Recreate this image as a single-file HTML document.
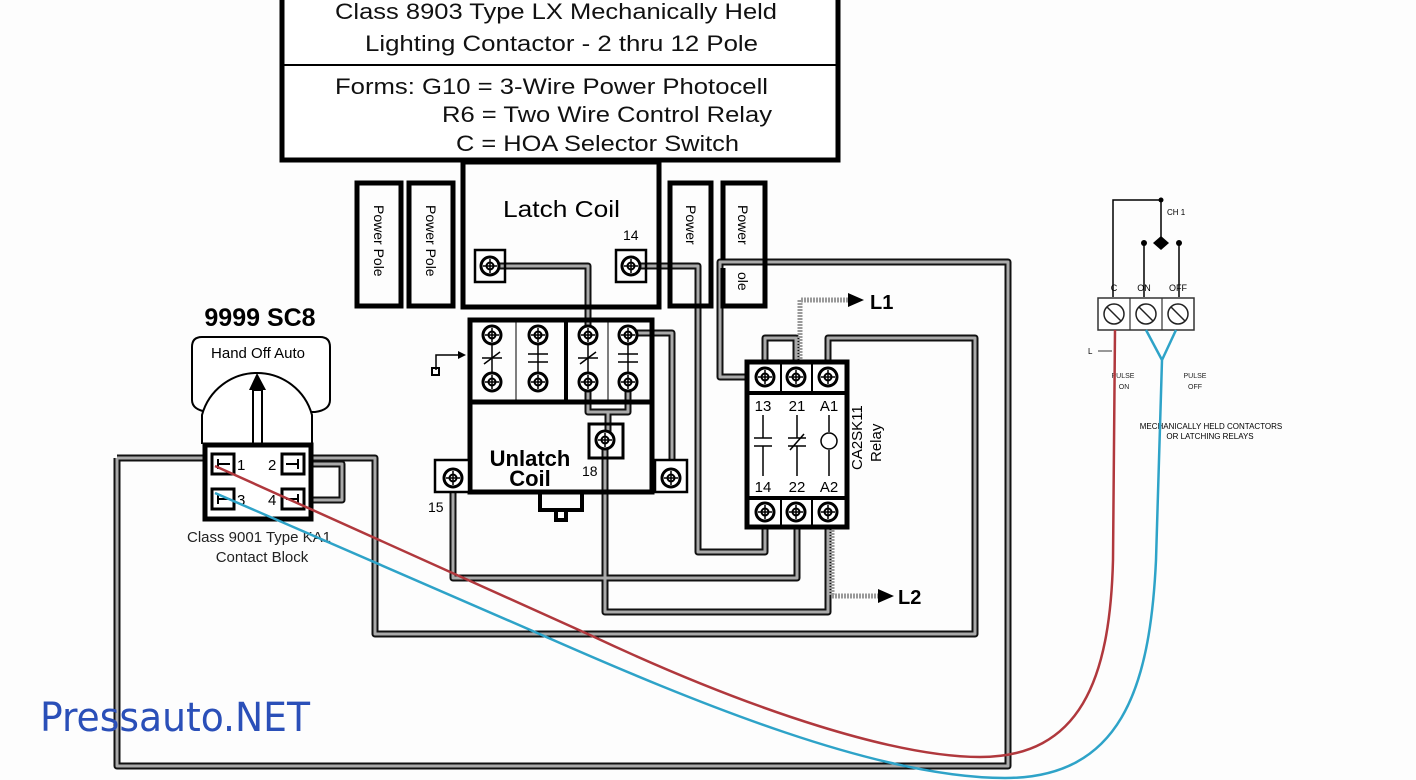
<!DOCTYPE html>
<html><head><meta charset="utf-8"><style>
html,body{margin:0;padding:0;background:#fdfdfd;}
svg{display:block;font-family:"Liberation Sans",Arial,sans-serif;}
</style></head><body>
<svg width="1416" height="780" viewBox="0 0 1416 780" xmlns="http://www.w3.org/2000/svg">
<rect width="1416" height="780" fill="#fdfdfd"/>
<defs>
<g id="scr"><circle r="9" fill="#fff" stroke="#000" stroke-width="3"/><circle r="3.5" fill="none" stroke="#000" stroke-width="2"/><path d="M-7 0H7M0 -7V7" stroke="#000" stroke-width="1.5"/></g>
</defs>

<g fill="none" stroke-linejoin="round">
<g stroke="#111" stroke-width="7">
<path d="M117 458H375V634H975V338H828V377"/>
<path d="M117 458V766H1008V262H720V377H765"/>
<path d="M453 480V578H797V512"/>
<path d="M605 440V612H828V512"/>
<path d="M631 266H698V552H765V512"/>
<path d="M628 333H672V478"/>
<path d="M490 266H588V333"/>
<path d="M765 377V338H796V377"/>
<path d="M292 464H342V500H292"/>
<path d="M588 383V412H628V383M588 412H608V440"/>
</g>
<g stroke="#aaa" stroke-width="3">
<path d="M117 458H375V634H975V338H828V377"/>
<path d="M117 458V766H1008V262H720V377H765"/>
<path d="M453 480V578H797V512"/>
<path d="M605 440V612H828V512"/>
<path d="M631 266H698V552H765V512"/>
<path d="M628 333H672V478"/>
<path d="M490 266H588V333"/>
<path d="M765 377V338H796V377"/>
<path d="M292 464H342V500H292"/>
<path d="M588 383V412H628V383M588 412H608V440"/>
</g>
<path d="M800 377V300H848M832 512V596H878" stroke="#999" stroke-width="5" stroke-dasharray="2 1"/>
</g>
<path d="M848 293L864 300L848 307Z M878 589L894 596L878 603Z"/>
<text x="870" y="309" font-size="20" font-weight="bold">L1</text>
<text x="898" y="604" font-size="20" font-weight="bold">L2</text>

<rect x="282" y="-10" width="556" height="170" fill="#fff" stroke="#000" stroke-width="5"/>
<line x1="282" y1="65" x2="838" y2="65" stroke="#000" stroke-width="2"/>
<g font-size="22" fill="#111">
<text x="335" y="19" textLength="442" lengthAdjust="spacingAndGlyphs">Class 8903 Type LX Mechanically Held</text>
<text x="365" y="51" textLength="393" lengthAdjust="spacingAndGlyphs">Lighting Contactor - 2 thru 12 Pole</text>
<text x="335" y="94" textLength="433" lengthAdjust="spacingAndGlyphs">Forms:  G10 = 3-Wire Power Photocell</text>
<text x="442" y="122" textLength="330" lengthAdjust="spacingAndGlyphs">R6 = Two Wire Control Relay</text>
<text x="456" y="151" textLength="283" lengthAdjust="spacingAndGlyphs">C = HOA Selector Switch</text>
</g>

<rect x="463" y="162" width="196" height="145" fill="none" stroke="#000" stroke-width="5"/>
<text x="503" y="217" font-size="23" textLength="117" lengthAdjust="spacingAndGlyphs">Latch Coil</text>
<text x="623" y="240" font-size="14">14</text>
<rect x="475" y="250" width="30" height="32" fill="none" stroke="#000" stroke-width="2.5"/>
<rect x="616" y="250" width="30" height="32" fill="none" stroke="#000" stroke-width="2.5"/>
<use href="#scr" x="490" y="266"/><use href="#scr" x="631" y="266"/>

<g fill="none" stroke="#000" stroke-width="5">
<rect x="357" y="183" width="44" height="123"/>
<rect x="409" y="183" width="44" height="123"/>
<rect x="670" y="183" width="41" height="123"/>
<path d="M723 260V183H765V306H723V268"/>
</g>
<g font-size="14">
<text transform="translate(374,205) rotate(90)">Power Pole</text>
<text transform="translate(426,205) rotate(90)">Power Pole</text>
<text transform="translate(686,205) rotate(90)">Power</text>
<text transform="translate(738,205) rotate(90)">Power</text>
<text transform="translate(738,272) rotate(90)">ole</text>
</g>

<rect x="470" y="320" width="182" height="82" fill="none" stroke="#000" stroke-width="5"/>
<line x1="516" y1="322" x2="516" y2="400" stroke="#000"/>
<line x1="566" y1="322" x2="566" y2="400" stroke="#000" stroke-width="4"/>
<line x1="608" y1="322" x2="608" y2="400" stroke="#000"/>
<g stroke="#000" stroke-width="1.5">
<path d="M492 340V376M482 358H502M538 340V376M528 354H548M528 362H548M588 340V376M578 358H598M628 340V376M618 354H638M618 362H638"/>
<path d="M484 364L500 352M580 364L596 352"/>
</g>
<use href="#scr" x="492" y="335"/><use href="#scr" x="538" y="335"/><use href="#scr" x="588" y="335"/><use href="#scr" x="628" y="335"/>
<use href="#scr" x="492" y="382"/><use href="#scr" x="538" y="382"/><use href="#scr" x="588" y="382"/><use href="#scr" x="628" y="382"/>
<path d="M436 370V355H458" fill="none" stroke="#000" stroke-width="1.5"/><path d="M458 351L466 355L458 359Z"/>
<rect x="432" y="368" width="7" height="7" fill="none" stroke="#000" stroke-width="2"/>

<path d="M470 402V492H652V402" fill="none" stroke="#000" stroke-width="5"/>
<path d="M540 492V510H582V492M556 510V520H566V510" fill="none" stroke="#000" stroke-width="4"/>
<text x="530" y="466" font-size="22" font-weight="bold" text-anchor="middle">Unlatch</text>
<text x="530" y="486" font-size="22" font-weight="bold" text-anchor="middle">Coil</text>
<rect x="589" y="424" width="34" height="34" fill="none" stroke="#000" stroke-width="3"/>
<use href="#scr" x="605" y="440"/>
<text x="582" y="476" font-size="14">18</text>
<rect x="435" y="460" width="34" height="32" fill="#fff" stroke="#000" stroke-width="2.5"/>
<use href="#scr" x="453" y="478"/>
<text x="428" y="512" font-size="14">15</text>
<rect x="655" y="460" width="32" height="32" fill="#fff" stroke="#000" stroke-width="2.5"/>
<use href="#scr" x="671" y="478"/>

<rect x="747" y="362" width="100" height="165" fill="#fff" stroke="#000" stroke-width="5"/>
<line x1="749" y1="393" x2="845" y2="393" stroke="#000" stroke-width="4"/>
<line x1="749" y1="498" x2="845" y2="498" stroke="#000" stroke-width="4"/>
<path d="M781 362V393M812 362V393M781 498V527M812 498V527" stroke="#000" stroke-width="2"/>
<use href="#scr" x="765" y="377"/><use href="#scr" x="796" y="377"/><use href="#scr" x="828" y="377"/>
<use href="#scr" x="765" y="512"/><use href="#scr" x="796" y="512"/><use href="#scr" x="828" y="512"/>
<g font-size="15" text-anchor="middle">
<text x="763" y="411">13</text><text x="797" y="411">21</text><text x="829" y="411">A1</text>
<text x="763" y="492">14</text><text x="797" y="492">22</text><text x="829" y="492">A2</text>
</g>
<g stroke="#000" stroke-width="1.5" fill="none">
<path d="M763 415V438M754 438H772M754 446H772M763 446V476M797 415V438M788 438H806M788 446H806M797 446V476M790 450L804 434M829 415V432M829 450V476"/>
<circle cx="829" cy="441" r="8"/>
</g>
<text transform="translate(862,470) rotate(-90)" font-size="15">CA2SK11</text>
<text transform="translate(881,462) rotate(-90)" font-size="15">Relay</text>

<text x="260" y="326" font-size="25" font-weight="bold" text-anchor="middle">9999 SC8</text>
<path d="M202 337H320Q330 337 330 347V400Q330 410 315 412 L208 412Q192 410 192 400V347Q192 337 202 337Z" fill="#fff" stroke="#000" stroke-width="2"/>
<path d="M202 444V415A57 57 0 0 1 312 415V444" fill="#fff" stroke="#000" stroke-width="2"/>
<text x="258" y="358" font-size="15" text-anchor="middle">Hand Off Auto</text>
<path d="M253 444V390H262V444" fill="#fff" stroke="#000" stroke-width="2"/>
<path d="M249 390L257 373L266 390Z"/>
<rect x="205" y="445" width="106" height="74" fill="#fff" stroke="#000" stroke-width="5"/>
<g fill="#fff" stroke="#000" stroke-width="3">
<rect x="212" y="454" width="22" height="20"/><rect x="282" y="454" width="22" height="20"/>
<rect x="212" y="489" width="22" height="20"/><rect x="282" y="489" width="22" height="20"/>
</g>
<g stroke="#000" stroke-width="2"><path d="M217 464H230M218 459V469M286 464H299M298 459V469M217 499H230M218 494V504M286 499H299M298 494V504"/></g>
<g font-size="15"><text x="237" y="470">1</text><text x="268" y="470">2</text><text x="237" y="505">3</text><text x="268" y="505">4</text></g>
<text x="259" y="542" font-size="15" text-anchor="middle" fill="#222">Class 9001 Type KA1</text>
<text x="262" y="562" font-size="15" text-anchor="middle" fill="#222">Contact Block</text>

<g stroke="#000" stroke-width="1.5" fill="none">
<path d="M1113 297V200H1161V245M1144 297V244M1179 297V244"/>
</g>
<circle cx="1161" cy="200" r="2.5"/><circle cx="1144" cy="243" r="3"/><circle cx="1179" cy="243" r="3"/>
<path d="M1153 243L1161 236L1169 243L1161 250Z"/>
<text x="1167" y="215" font-size="8">CH 1</text>
<g font-size="9" text-anchor="middle"><text x="1114" y="291">C</text><text x="1144" y="291">ON</text><text x="1178" y="291">OFF</text></g>
<rect x="1098" y="298" width="96" height="32" fill="#fff" stroke="#333" stroke-width="1.5"/>
<path d="M1130 298V330M1162 298V330" stroke="#333" stroke-width="1.2"/>
<g fill="none" stroke="#222" stroke-width="1.5">
<circle cx="1114" cy="314" r="10"/><circle cx="1146" cy="314" r="10"/><circle cx="1178" cy="314" r="10"/>
<path d="M1107 307L1121 321M1139 307L1153 321M1171 307L1185 321"/>
</g>
<path d="M1098 351H1112" stroke="#333"/>
<text x="1088" y="354" font-size="8">L</text>
<g font-size="7" text-anchor="middle" fill="#222"><text x="1123" y="378">PULSE</text><text x="1124" y="389">ON</text><text x="1195" y="378">PULSE</text><text x="1195" y="389">OFF</text></g>
<text x="1211" y="429" font-size="8" text-anchor="middle">MECHANICALLY HELD CONTACTORS</text>
<text x="1210" y="439" font-size="8" text-anchor="middle">OR LATCHING RELAYS</text>

<path d="M215 466L590 635C760 715 900 757 980 757C1080 757 1110 680 1113 560L1115 330" fill="none" stroke="#b0383d" stroke-width="2.5"/>
<path d="M215 493L535 632C700 705 880 778 1005 778C1120 778 1150 690 1156 560L1162 360L1176 330M1162 360L1146 330" fill="none" stroke="#2ea3c8" stroke-width="2.5"/>

<text x="40" y="731" font-size="40" fill="#2a4fb8" textLength="270" lengthAdjust="spacingAndGlyphs" style="font-family:'DejaVu Sans Condensed','DejaVu Sans',sans-serif">Pressauto.NET</text>
</svg>
</body></html>
